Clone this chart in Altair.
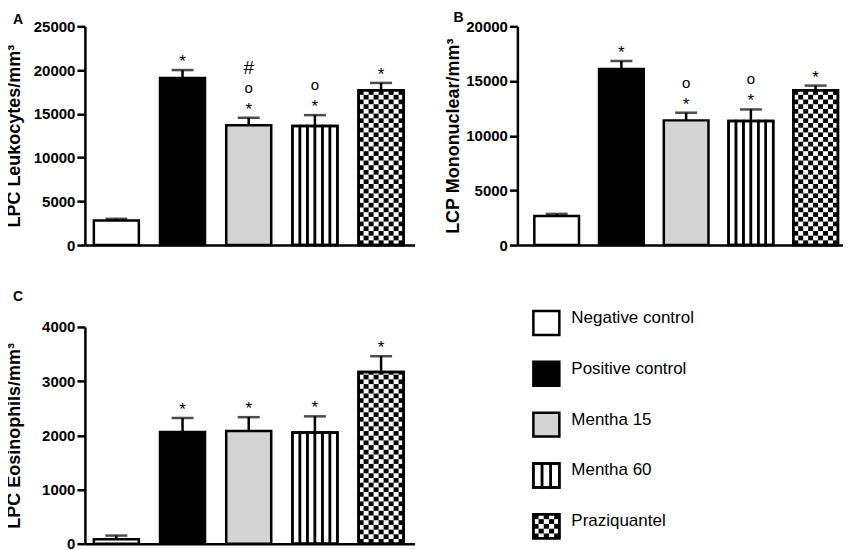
import altair as alt
import pandas as pd

FONT = "Liberation Sans"

groups = ["Negative control", "Positive control", "Mentha 15", "Mentha 60", "Praziquantel"]
fills = ["#ffffff", "#000000", "#d4d4d4", "#ffffff", "#ffffff"]

# Panel A: LPC Leukocytes
a_mean = [2800, 19100, 13700, 13600, 17700]
a_sem = [200, 900, 850, 1250, 830]
a_star = ["", "*", "*", "*", "*"]
a_circ = ["", "", "o", "o", ""]
a_hash = ["", "", "#", "", ""]
a_ticks = [0, 5000, 10000, 15000, 20000, 25000]

# Panel B: LCP Mononuclear
b_mean = [2650, 16100, 11400, 11350, 14150]
b_sem = [200, 730, 700, 1050, 430]
b_star = ["", "*", "*", "*", "*"]
b_circ = ["", "", "o", "o", ""]
b_hash = ["", "", "", "", ""]
b_ticks = [0, 5000, 10000, 15000, 20000]

# Panel C: LPC Eosinophils
c_mean = [80, 2060, 2080, 2050, 3170]
c_sem = [70, 260, 255, 300, 290]
c_star = ["", "*", "*", "*", "*"]
c_circ = ["", "", "", "", ""]
c_hash = ["", "", "", "", ""]
c_ticks = [0, 1000, 2000, 3000, 4000]

LW = 2.5
N_CHECK = 9
N_STRIPE = 6
CELL_PX = 4.7


def panel(mean, sem, star, circ, hsh, ticks, ytitle, letter, w, h, xpad,
          extent, title_offset, title_dx):
    ymax = ticks[-1]
    df = pd.DataFrame({"group": groups, "mean": mean, "sem": sem,
                       "star": star, "circ": circ, "hash": hsh})
    df["top"] = df["mean"] + df["sem"]
    base = alt.Chart(df)

    xs = alt.Scale(paddingInner=xpad[0], paddingOuter=xpad[1], align=xpad[2])
    xaxis = alt.Axis(labels=False, ticks=False, grid=False, domainColor="black",
                     domainWidth=LW)
    ys = alt.Scale(domain=[0, ymax], nice=False, zero=True)
    yaxis = alt.Axis(values=ticks, grid=False, domainColor="black", domainWidth=LW,
                     tickColor="black", tickWidth=LW, tickSize=8,
                     labelFont=FONT, labelFontSize=15, labelFontWeight="bold",
                     labelColor="black", labelPadding=2, labelFlush=False,
                     labelOverlap=False, format="d",
                     titleFont=FONT, titleFontSize=18, titleFontWeight="bold",
                     titleColor="black", titlePadding=0,
                     minExtent=extent, maxExtent=extent)

    def X():
        return alt.X("group:N", sort=groups, scale=xs, axis=xaxis, title=None)

    def Y(f):
        return alt.Y(f, type="quantitative", scale=ys, axis=yaxis, title=ytitle)

    err = base.mark_rule(color="black", strokeWidth=LW).encode(
        x=X(), y=Y("mean"), y2="top")
    cap = base.mark_tick(color="black", thickness=LW, size=22).encode(
        x=X(), y=Y("top"))
    bars = base.mark_bar(stroke="black", strokeWidth=LW).encode(
        x=X(), y=Y("mean"),
        fill=alt.Fill("group:N", scale=alt.Scale(domain=groups, range=fills),
                      legend=None))

    # checker pattern cells for Praziquantel
    cell_h = CELL_PX * ymax / h
    pm = mean[groups.index("Praziquantel")]
    cells = []
    r = 0
    while r * cell_h < pm:
        y0 = r * cell_h
        y1 = min((r + 1) * cell_h, pm)
        for c in range(N_CHECK):
            if (r + c) % 2 == 0:
                cells.append({"group": "Praziquantel", "col": c, "y0": y0, "y1": y1})
        r += 1
    cdf = pd.DataFrame(cells)
    checker = alt.Chart(cdf).mark_rect(color="black").encode(
        x=X(),
        xOffset=alt.XOffset("col:O", scale=alt.Scale(paddingInner=0, paddingOuter=0)),
        y=Y("y0"), y2="y1")

    mm = mean[groups.index("Mentha 60")]
    sdf = pd.DataFrame({"group": ["Mentha 60"] * N_STRIPE,
                        "stripe": list(range(N_STRIPE)),
                        "mean": [mm] * N_STRIPE})
    stripes = alt.Chart(sdf).mark_bar(fillOpacity=0, stroke="black", strokeWidth=LW).encode(
        x=X(),
        xOffset=alt.XOffset("stripe:O", scale=alt.Scale(paddingInner=0, paddingOuter=0)),
        y=Y("mean"))

    outline = base.transform_filter(alt.datum.group == "Praziquantel").mark_bar(
        fillOpacity=0, stroke="black", strokeWidth=LW).encode(x=X(), y=Y("mean"))

    t_star = base.mark_text(font=FONT, fontSize=17, baseline="alphabetic", dy=-3,
                            color="black").encode(x=X(), y=Y("top"), text="star")
    t_circ = base.mark_text(font=FONT, fontSize=15, baseline="alphabetic", dy=-25,
                            color="black").encode(x=X(), y=Y("top"), text="circ")
    t_hash = base.mark_text(font=FONT, fontSize=19, baseline="alphabetic", dy=-44,
                            color="black").encode(x=X(), y=Y("top"), text="hash")

    return alt.layer(err, cap, bars, checker, stripes, outline, t_star, t_circ, t_hash
                     ).resolve_scale(xOffset="independent").properties(
        width=w, height=h,
        title=alt.TitleParams(letter, anchor="start", frame="group", font=FONT,
                              fontSize=14, fontWeight="bold", color="black",
                              offset=title_offset, dx=title_dx))


pA = panel(a_mean, a_sem, a_star, a_circ, a_hash, a_ticks, "LPC Leukocytes/mm³", "A",
           330, 219, (0.32, 0.15, 0.45), 61, -16, -72)
pB = panel(b_mean, b_sem, b_star, b_circ, b_hash, b_ticks, "LCP Mononuclear/mm³", "B",
           326, 219, (0.31, 0.17, 0.77), 55, -23, -64)
pC = panel(c_mean, c_sem, c_star, c_circ, c_hash, c_ticks, "LPC Eosinophils/mm³", "C",
           330, 217, (0.32, 0.15, 0.45), 61, -7, -72)

# custom legend, placed in panel B's column
ldf = pd.DataFrame({"group": groups, "sw": ["s"] * len(groups)})
LX = alt.X("sw:N", scale=alt.Scale(paddingInner=0, paddingOuter=0.3077, align=1),
           axis=None)
LY = alt.Y("group:N", sort=groups,
           scale=alt.Scale(range=[-16, 234], paddingInner=0.529, paddingOuter=0.22,
                           align=0), axis=None)
lbase = alt.Chart(ldf)
l_sw = lbase.mark_rect(stroke="black", strokeWidth=LW).encode(
    x=LX, y=LY,
    fill=alt.Fill("group:N", scale=alt.Scale(domain=groups, range=fills), legend=None))
l_st = alt.Chart(pd.DataFrame({"group": ["Mentha 60"] * 3, "sw": ["s"] * 3, "k": [0, 1, 2]})
                 ).mark_rect(fillOpacity=0, stroke="black", strokeWidth=LW).encode(
    x=LX, xOffset=alt.XOffset("k:O", scale=alt.Scale(paddingInner=0, paddingOuter=0)), y=LY)
lc = [{"group": "Praziquantel", "sw": "s", "c": c, "r": r}
      for r in range(5) for c in range(5) if (r + c) % 2 == 0]
l_ch = alt.Chart(pd.DataFrame(lc)).mark_rect(color="black").encode(
    x=LX, xOffset=alt.XOffset("c:O", scale=alt.Scale(paddingInner=0, paddingOuter=0)),
    y=LY, yOffset=alt.YOffset("r:O", scale=alt.Scale(paddingInner=0, paddingOuter=0)))
l_out = lbase.transform_filter(alt.datum.group == "Praziquantel").mark_rect(
    fillOpacity=0, stroke="black", strokeWidth=LW).encode(x=LX, y=LY)
l_tx = lbase.mark_text(font=FONT, fontSize=17, align="left", baseline="middle",
                       dx=25, dy=-5, color="black").encode(x=LX, y=LY, text="group")
legend = alt.layer(l_sw, l_st, l_ch, l_out, l_tx).resolve_scale(
    xOffset="independent").properties(width=42, height=250)

chart = alt.concat(pA, pB, pC, legend, columns=2,
                   spacing={"row": 82, "column": 103},
                   bounds="flush", align="each").properties(
    padding={"left": -2, "top": -7, "right": 0, "bottom": 0}
).configure(font=FONT).configure_view(stroke=None)

chart.save("out.html", embed_options={"renderer": "svg", "actions": False})
